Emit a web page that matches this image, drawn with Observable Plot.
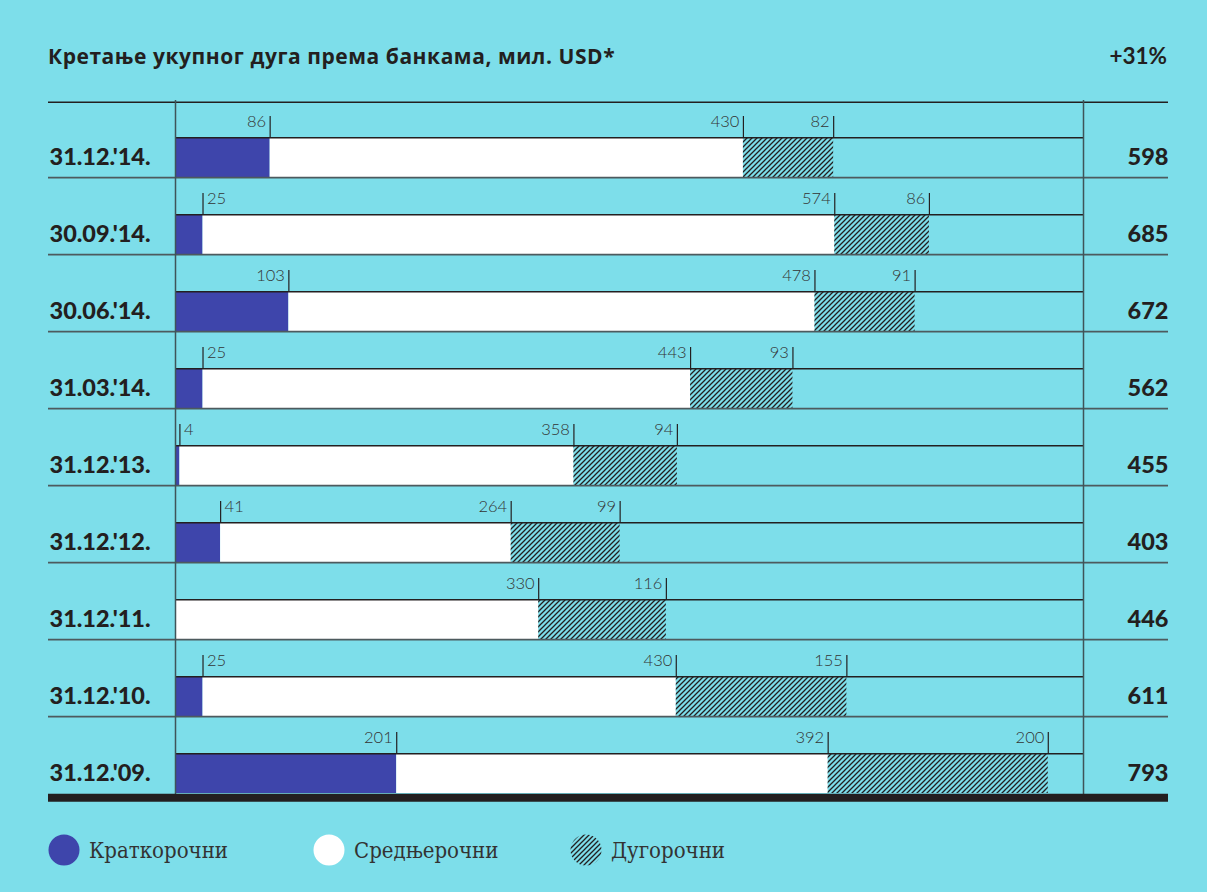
<!DOCTYPE html>
<html><head><meta charset="utf-8">
<script src="https://cdn.jsdelivr.net/npm/d3@7"></script>
<script src="https://cdn.jsdelivr.net/npm/@observablehq/plot@0.6"></script>
<style>
body{margin:0;background:#7DDEEA;width:1207px;height:892px;position:relative;overflow:hidden;color:#231f20}
#title{position:absolute;left:48px;top:42px;font-family:"Open Sans","Noto Sans",sans-serif;font-size:21px;letter-spacing:0.55px;font-weight:700;white-space:nowrap}
#pct{position:absolute;right:40px;top:42px;font-family:Lato,"Open Sans",sans-serif;font-size:22.5px;font-weight:700}
#chart{position:absolute;left:0;top:90px}
.leg{position:absolute;top:834px;height:32px;display:flex;align-items:center}
.leg span{font-family:"DejaVu Serif Condensed","DejaVu Serif",serif;font-stretch:condensed;font-size:22px;color:#333;margin-left:9px}
</style></head>
<body>
<div id="title"></div>
<div id="pct"></div>
<div id="chart"></div>
<div id="legend"></div>
<script>
const titleText = "Кретање укупног дуга према банкама, мил. USD*";
const changeText = "+31%";
const dates = ["31.12.'14.", "30.09.'14.", "30.06.'14.", "31.03.'14.", "31.12.'13.", "31.12.'12.", "31.12.'11.", "31.12.'10.", "31.12.'09."];
const shortTerm = [86, 25, 103, 25, 4, 41, 0, 25, 201];
const mediumTerm = [430, 574, 478, 443, 358, 264, 330, 430, 392];
const longTerm = [82, 86, 91, 93, 94, 99, 116, 155, 200];
const totals = [598, 685, 672, 562, 455, 403, 446, 611, 793];
const legendLabels = ["Краткорочни", "Средњерочни", "Дугорочни"];

const BLUE = "#3E45AB", DARK = "#231f20";
const xMax = 825;
const W = 1207, H = 720, MT = 8, MB = 16;
const bw = (H - MT - MB) / dates.length;
const barInset = bw - 40;

document.getElementById("title").textContent = titleText;
document.getElementById("pct").textContent = changeText;

const rows = dates.map((d, i) => ({
  date: d,
  s0: 0, s1: shortTerm[i],
  m0: shortTerm[i], m1: shortTerm[i] + mediumTerm[i],
  l0: shortTerm[i] + mediumTerm[i], l1: shortTerm[i] + mediumTerm[i] + longTerm[i],
  total: totals[i]
}));
const labels = [];
rows.forEach((r, i) => {
  if (shortTerm[i] > 0) labels.push({date: r.date, pos: r.s1, label: String(shortTerm[i]), side: shortTerm[i] < 50 ? "right" : "left"});
  labels.push({date: r.date, pos: r.m1, label: String(mediumTerm[i]), side: "left"});
  labels.push({date: r.date, pos: r.l1, label: String(longTerm[i]), side: "left"});
});

const labelFont = {fontFamily: "Lato, 'Open Sans', sans-serif", fontWeight: 300, fontSize: 16.5, fill: "#333"};
const plot = Plot.plot({
  width: W, height: H,
  marginTop: MT, marginBottom: MB, marginLeft: 48, marginRight: 39,
  style: {background: "transparent", overflow: "visible"},
  x: {domain: [0, xMax], range: [175, 1083], axis: null},
  y: {type: "band", domain: dates, paddingInner: 0, paddingOuter: 0, axis: null},
  marks: [
    Plot.barX(rows, {y: "date", x1: "s0", x2: "s1", fill: BLUE, insetTop: barInset}),
    Plot.barX(rows, {y: "date", x1: "m0", x2: "m1", fill: "white", insetTop: barInset}),
    Plot.barX(rows, {y: "date", x1: "l0", x2: "l1", fill: "url(#hatch)", insetTop: barInset}),
    Plot.ruleY(dates.slice(0, -1), {y: d => d, dy: bw / 2, stroke: "#4d5a5e", strokeWidth: 1.6}),
    Plot.ruleY([dates[0]], {y: d => d, dy: -bw / 2 + 2, stroke: DARK, strokeWidth: 1.5}),
    Plot.ruleY(dates, {y: d => d, x1: () => 0, x2: () => xMax, dy: barInset - bw / 2, stroke: DARK, strokeWidth: 1.5}),
    Plot.ruleX([0, xMax], {x: d => d, insetTop: 2, stroke: "#3f5459", strokeWidth: 1.5}),
    Plot.tickX(labels, {x: "pos", y: "date", insetTop: 16, insetBottom: bw - barInset, stroke: DARK, strokeWidth: 1.2}),
    Plot.text(labels.filter(d => d.side === "left"), {x: "pos", y: "date", text: "label", textAnchor: "end", dx: -4, dy: barInset - bw / 2 - 16, ...labelFont}),
    Plot.text(labels.filter(d => d.side === "right"), {x: "pos", y: "date", text: "label", textAnchor: "start", dx: 4, dy: barInset - bw / 2 - 16, ...labelFont}),
    Plot.text(rows, {y: "date", text: "date", frameAnchor: "left", textAnchor: "start", dx: 1, dy: 18, fontFamily: "Lato, 'Open Sans', sans-serif", fontWeight: 900, fontSize: 23.5, fill: DARK}),
    Plot.text(rows, {y: "date", text: "total", frameAnchor: "right", textAnchor: "end", dy: 18, fontFamily: "Lato, 'Open Sans', sans-serif", fontWeight: 900, fontSize: 23.5, fill: DARK}),
    Plot.ruleY([dates[dates.length - 1]], {y: d => d, dy: bw / 2 + 4, stroke: DARK, strokeWidth: 8})
  ]
});
d3.select(plot).insert("defs", ":first-child").html(
  `<pattern id="hatch" patternUnits="userSpaceOnUse" width="5" height="5">
     <path d="M-1,1 l2,-2 M0,5 l5,-5 M4,6 l2,-2" stroke="${DARK}" stroke-width="1.3"/>
   </pattern>`);
document.getElementById("chart").appendChild(plot);

const legendFills = [BLUE, "white", "url(#hatchLeg)"];
const legendX = [48, 313, 570];
const legend = d3.select("#legend");
legendLabels.forEach((lab, i) => {
  const item = legend.append("div").attr("class", "leg").style("left", legendX[i] + "px");
  const svg = item.append("svg").attr("width", 32).attr("height", 32);
  if (i === 2) {
    svg.append("defs").html(`<pattern id="hatchLeg" patternUnits="userSpaceOnUse" width="5" height="5">
      <path d="M-1,1 l2,-2 M0,5 l5,-5 M4,6 l2,-2" stroke="${DARK}" stroke-width="1.3"/></pattern>`);
  }
  svg.append("ellipse").attr("cx", 16).attr("cy", 16).attr("rx", 15.5).attr("ry", 15.5).attr("fill", legendFills[i]);
  item.append("span").text(lab);
});
</script>
</body></html>
